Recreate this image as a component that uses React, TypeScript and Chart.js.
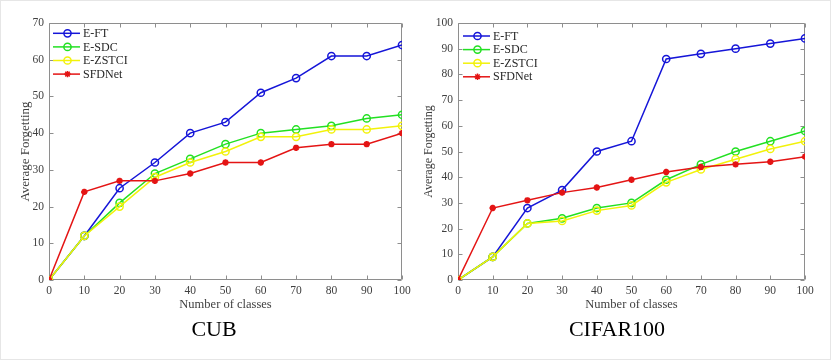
import React, { useEffect, useRef } from 'react';
import { Chart, registerables } from 'chart.js';

Chart.register(...registerables);

// ---------- data ----------
const classes = [0, 10, 20, 30, 40, 50, 60, 70, 80, 90, 100];
const seriesNames = ['E-FT', 'E-SDC', 'E-ZSTCI', 'SFDNet'];

const cubEFT = [0, 12, 25, 32, 40, 43, 51, 55, 61, 61, 64];
const cubESDC = [0, 12, 21, 29, 33, 37, 40, 41, 42, 44, 45];
const cubEZSTCI = [0, 12, 20, 28, 32, 35, 39, 39, 41, 41, 42];
const cubSFDNet = [0, 24, 27, 27, 29, 32, 32, 36, 37, 37, 40];

const cifarEFT = [0, 9, 28, 35, 50, 54, 86, 88, 90, 92, 94];
const cifarESDC = [0, 9, 22, 24, 28, 30, 39, 45, 50, 54, 58];
const cifarEZSTCI = [0, 9, 22, 23, 27, 29, 38, 43, 47, 51, 54];
const cifarSFDNet = [0, 28, 31, 34, 36, 39, 42, 44, 45, 46, 48];

const cubTitle = 'CUB';
const cifarTitle = 'CIFAR100';
const xTitle = 'Number of classes';
const yTitle = 'Average Forgetting';

// ---------- styles ----------
const FONT = "'Liberation Serif', 'Times New Roman', serif";
const colors = ['#1515d8', '#22e022', '#f2f20a', '#e41414'];
const markers = ['circle', 'circle', 'circle', 'star'];
const TICK_COLOR = '#404040';
const BOX_COLOR = '#8e8e8e';

function drawMarker(ctx: CanvasRenderingContext2D, style: string, x: number, y: number, r: number) {
  ctx.beginPath();
  if (style === 'star') {
    for (let i = 0; i < 4; i++) {
      const ang = (i * Math.PI) / 4;
      const dx = Math.cos(ang) * r;
      const dy = Math.sin(ang) * r;
      ctx.moveTo(x - dx, y - dy);
      ctx.lineTo(x + dx, y + dy);
    }
  } else {
    ctx.arc(x, y, r, 0, Math.PI * 2);
  }
  ctx.stroke();
}

const boxPlugin = {
  id: 'matlabBox',
  beforeDatasetsDraw(chart: any) {
    const { ctx, chartArea: a, scales } = chart;
    const L = Math.floor(a.left) + 0.5;
    const T = Math.floor(a.top) + 0.5;
    const R = Math.ceil(a.right) - 0.5;
    const B = Math.ceil(a.bottom) - 0.5;
    const len = 4;
    ctx.save();
    ctx.strokeStyle = BOX_COLOR;
    ctx.lineWidth = 1;
    ctx.beginPath();
    ctx.rect(L, T, R - L, B - T);
    scales.x.ticks.forEach((t: any) => {
      const px = Math.round(scales.x.getPixelForValue(t.value)) + 0.5;
      ctx.moveTo(px, B);
      ctx.lineTo(px, B - len);
      ctx.moveTo(px, T);
      ctx.lineTo(px, T + len);
    });
    scales.y.ticks.forEach((t: any) => {
      const py = Math.round(scales.y.getPixelForValue(t.value)) + 0.5;
      ctx.moveTo(L, py);
      ctx.lineTo(L + len, py);
      ctx.moveTo(R, py);
      ctx.lineTo(R - len, py);
    });
    ctx.stroke();
    ctx.restore();
  },
};

function makeLegendPlugin(dx: number, dy: number) {
  return {
    id: 'matlabLegend',
    afterDraw(chart: any) {
      const { ctx, chartArea: a } = chart;
      const rowH = 13.6;
      const lineLen = 27;
      ctx.save();
      chart.data.datasets.forEach((ds: any, i: number) => {
        const y = a.top + dy + i * rowH;
        const x0 = a.left + dx;
        ctx.strokeStyle = ds.borderColor;
        ctx.lineWidth = 1.5;
        ctx.beginPath();
        ctx.moveTo(x0, y);
        ctx.lineTo(x0 + lineLen, y);
        ctx.stroke();
        drawMarker(ctx, ds.pointStyle, x0 + lineLen / 2 + 1, y, ds.pointRadius);
        ctx.fillStyle = '#262626';
        ctx.font = `12px ${FONT}`;
        ctx.textBaseline = 'middle';
        ctx.textAlign = 'left';
        ctx.fillText(ds.label, x0 + lineLen + 3, y + 0.5);
      });
      ctx.restore();
    },
  };
}

interface PanelProps {
  series: number[][];
  yMax: number;
  yWidth: number;
  padRight: number;
  yTitlePad: number;
  yTitleSize: number;
  legendDx: number;
  legendDy: number;
  width: number;
}

function Panel(props: PanelProps) {
  const ref = useRef<HTMLCanvasElement | null>(null);
  useEffect(() => {
    if (!ref.current) return;
    const datasets = props.series.map((vals, i) => ({
      label: seriesNames[i],
      data: classes.map((c, j) => ({ x: c, y: vals[j] })),
      borderColor: colors[i],
      backgroundColor: colors[i],
      pointBackgroundColor: markers[i] === 'star' ? colors[i] : 'rgba(0,0,0,0)',
      pointBorderColor: colors[i],
      pointStyle: markers[i],
      pointRadius: markers[i] === 'star' ? 3.2 : 3.6,
      pointBorderWidth: markers[i] === 'star' ? 2 : 1.5,
      borderWidth: 1.5,
      tension: 0,
      order: 4 - i,
    }));
    const chart = new Chart(ref.current, {
      type: 'line',
      data: { datasets },
      options: {
        animation: false,
        responsive: false,
        devicePixelRatio: 1,
        layout: { padding: { left: 0, right: props.padRight, top: 23, bottom: 0 } },
        plugins: {
          legend: { display: false },
          tooltip: { enabled: false },
          title: { display: false },
        },
        scales: {
          x: {
            type: 'linear',
            min: 0,
            max: 100,
            ticks: {
              stepSize: 10,
              color: TICK_COLOR,
              padding: 4,
              font: { family: FONT, size: 11.5 },
              maxRotation: 0,
            },
            grid: { display: true, drawOnChartArea: false, drawTicks: false },
            border: { display: false },
            title: {
              display: true,
              text: xTitle,
              color: TICK_COLOR,
              font: { family: FONT, size: 12.5 },
              padding: { top: 4, bottom: 48 },
            },
            afterFit: (s: any) => {
              s.height = 80;
            },
          },
          y: {
            type: 'linear',
            min: 0,
            max: props.yMax,
            ticks: {
              stepSize: 10,
              color: TICK_COLOR,
              padding: 5,
              font: { family: FONT, size: 11.5 },
            },
            grid: { display: true, drawOnChartArea: false, drawTicks: false },
            border: { display: false },
            title: {
              display: true,
              text: yTitle,
              color: TICK_COLOR,
              font: { family: FONT, size: props.yTitleSize },
              padding: { top: props.yTitlePad, bottom: 0 },
            },
            afterFit: (s: any) => {
              s.width = props.yWidth;
            },
          },
        },
      } as any,
      plugins: [boxPlugin, makeLegendPlugin(props.legendDx, props.legendDy)],
    });
    return () => chart.destroy();
  }, []);
  return (
    <canvas
      ref={ref}
      width={props.width}
      height={360}
      style={{ width: props.width, height: 360, display: 'block' }}
    />
  );
}

const titleStyle: React.CSSProperties = {
  position: 'absolute',
  top: 318,
  fontFamily: FONT,
  fontSize: 22,
  lineHeight: '22px',
  color: '#000',
  textAlign: 'center',
  width: 200,
  whiteSpace: 'nowrap',
};

export default function App() {
  return (
    <div
      style={{
        position: 'fixed',
        left: 0,
        top: 0,
        width: 831,
        height: 360,
        background: '#fff',
        overflow: 'hidden',
      }}
    >
      <div style={{ position: 'absolute', left: 0, top: 0 }}>
        <Panel
          series={[cubEFT, cubESDC, cubEZSTCI, cubSFDNet]}
          yMax={70}
          yWidth={49}
          padRight={13}
          yTitlePad={18}
          yTitleSize={13}
          legendDx={4}
          legendDy={10.3}
          width={415}
        />
      </div>
      <div style={{ position: 'absolute', left: 415, top: 0 }}>
        <Panel
          series={[cifarEFT, cifarESDC, cifarEZSTCI, cifarSFDNet]}
          yMax={100}
          yWidth={43}
          padRight={26}
          yTitlePad={7}
          yTitleSize={12}
          legendDx={5}
          legendDy={13}
          width={416}
        />
      </div>
      <div style={{ ...titleStyle, left: 214 - 100 }}>{cubTitle}</div>
      <div style={{ ...titleStyle, left: 617 - 100 }}>{cifarTitle}</div>
      <div
        style={{
          position: 'absolute',
          left: 0,
          top: 0,
          width: 831,
          height: 360,
          boxSizing: 'border-box',
          border: '1px solid #e6e6e6',
          pointerEvents: 'none',
        }}
      />
    </div>
  );
}
